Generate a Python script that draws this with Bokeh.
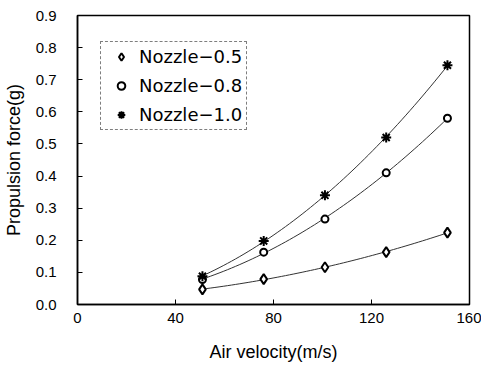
import numpy as np
from bokeh.plotting import figure
from bokeh.models import Range1d, FixedTicker, NumeralTickFormatter, Legend, LegendItem
from bokeh.embed import file_html
from bokeh.resources import INLINE

# Data
velocity = [51, 76, 101, 126, 151]
nozzle_05 = [0.047, 0.079, 0.116, 0.163, 0.224]
nozzle_08 = [0.078, 0.163, 0.266, 0.410, 0.580]
nozzle_10 = [0.088, 0.198, 0.340, 0.520, 0.745]
labels = ["Nozzle\u22120.5", "Nozzle\u22120.8", "Nozzle\u22121.0"]
x_ticks = [0, 40, 80, 120, 160]
y_ticks = [0.0, 0.1, 0.2, 0.3, 0.4, 0.5, 0.6, 0.7, 0.8, 0.9]

FONT = "Liberation Sans"

p = figure(width=481, height=366, output_backend="svg", toolbar_location=None,
           x_range=Range1d(0, 160), y_range=Range1d(0, 0.9),
           min_border_left=74, min_border_right=12, min_border_top=15, min_border_bottom=62)
p.background_fill_color = "white"
p.border_fill_color = "white"
p.outline_line_color = "black"
p.outline_line_width = 1.5
p.xgrid.visible = False
p.ygrid.visible = False

for ax in (p.xaxis[0], p.yaxis[0]):
    ax.axis_line_color = "black"
    ax.axis_line_width = 1.5
    ax.major_tick_in = 5
    ax.major_tick_out = 0
    ax.minor_tick_in = 0
    ax.minor_tick_out = 0
    ax.major_tick_line_color = "black"
    ax.major_label_text_font = FONT
    ax.major_label_text_font_size = "15px"
    ax.major_label_text_color = "black"
    ax.axis_label_text_font = FONT
    ax.axis_label_text_font_size = "18px"
    ax.axis_label_text_font_style = "normal"
    ax.axis_label_text_color = "black"

p.xaxis.ticker = FixedTicker(ticks=x_ticks)
p.yaxis.ticker = FixedTicker(ticks=y_ticks)
p.yaxis.formatter = NumeralTickFormatter(format="0.0")
p.xaxis.axis_label = "Air velocity(m/s)"
p.yaxis.axis_label = "Propulsion force(g)"
p.xaxis.major_label_standoff = 8
p.yaxis.major_label_standoff = 21
p.xaxis.axis_label_standoff = 16
p.yaxis.axis_label_standoff = 9

series = [nozzle_05, nozzle_08, nozzle_10]
xs = np.array(velocity, dtype=float)
xf = np.linspace(xs[0], xs[-1], 60)
items = []
for vals, lab, mk in zip(series, labels, ["diamond", "circle", "asterisk"]):
    coef = np.polyfit(xs, np.array(vals), 2)
    p.line(xf, np.polyval(coef, xf), line_color="#333333", line_width=1)
    if mk == "diamond":
        r = p.scatter(velocity, vals, marker="diamond", size=10,
                      fill_color="white", line_color="black", line_width=2)
    elif mk == "circle":
        r = p.scatter(velocity, vals, marker="circle", size=7, fill_color="white",
                      line_color="black", line_width=2)
    else:
        r = p.scatter(velocity, vals, marker="asterisk", size=10,
                      line_color="black", line_width=2)
    items.append(LegendItem(label=lab, renderers=[r]))

legend = Legend(items=items, location=(23, 174))
legend.label_text_font = "DejaVu Sans"
legend.label_text_font_size = "18px"
legend.label_text_color = "black"
legend.border_line_color = "black"
legend.border_line_dash = "dotted"
legend.border_line_width = 1
legend.background_fill_alpha = 1
legend.glyph_width = 32
legend.glyph_height = 19
legend.label_height = 19
legend.label_standoff = 2
legend.spacing = 8
legend.padding = 4
legend.margin = 0
p.add_layout(legend, "center")

open("out.html", "w").write(file_html(p, INLINE))
